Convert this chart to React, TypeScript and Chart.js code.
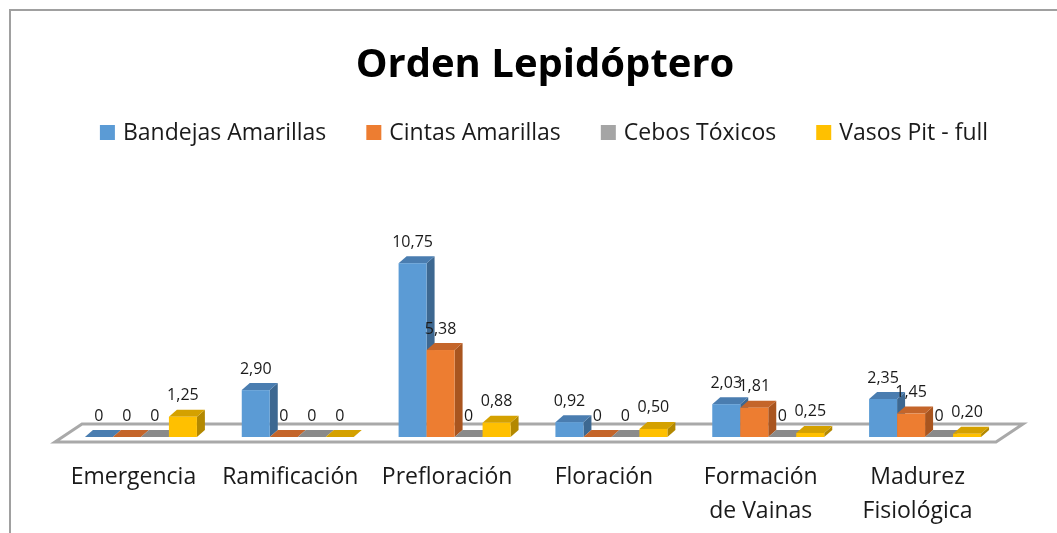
import React, { useEffect, useRef } from "react";
import { Chart, registerables } from "chart.js";
Chart.register(...registerables);

const titleText = "Orden Lepidóptero";
const categories: string[][] = [
  ["Emergencia"],
  ["Ramificación"],
  ["Prefloración"],
  ["Floración"],
  ["Formación", "de Vainas"],
  ["Madurez", "Fisiológica"],
];
const seriesNames = ["Bandejas Amarillas", "Cintas Amarillas", "Cebos Tóxicos", "Vasos Pit - full"];
const bandejas = [0, 2.9, 10.75, 0.92, 2.03, 2.35];
const cintas = [0, 0, 5.38, 0, 1.81, 1.45];
const cebos = [0, 0, 0, 0, 0, 0];
const vasos = [1.25, 0, 0.88, 0.5, 0.25, 0.2];
const seriesValues = [bandejas, cintas, cebos, vasos];

const frontColors = ["#5B9BD5", "#ED7D31", "#A5A5A5", "#FFC000"];
const topColors = ["#4A7DB0", "#C4652A", "#8A8A8A", "#D4A100"];
const sideColors = ["#3D6891", "#A9551F", "#767676", "#B38800"];

const FONT = "'Open Sans', 'DejaVu Sans', sans-serif";

function fmt(v: number): string {
  if (v === 0) return "0";
  return v.toFixed(2).replace(".", ",");
}

const threeDPlugin = {
  id: "threeD",
  beforeDatasetsDraw(chart: any) {
    const ctx: CanvasRenderingContext2D = chart.ctx;
    const area = chart.chartArea;
    // floor
    const fdx = 27, fdy = -18;
    ctx.save();
    ctx.beginPath();
    ctx.moveTo(area.left, area.bottom);
    ctx.lineTo(area.right, area.bottom);
    ctx.lineTo(area.right + fdx, area.bottom + fdy);
    ctx.lineTo(area.left + fdx, area.bottom + fdy);
    ctx.closePath();
    ctx.fillStyle = "#ffffff";
    ctx.fill();
    ctx.lineWidth = 3;
    ctx.strokeStyle = "#A9A9A9";
    ctx.lineJoin = "miter";
    ctx.stroke();
    ctx.restore();

    const sx = 7.5, sy = -5;
    const dx = 8, dy = -7;
    const n = chart.data.labels.length;
    const nd = chart.data.datasets.length;
    for (let i = 0; i < n; i++) {
      for (let d = 0; d < nd; d++) {
        const el = chart.getDatasetMeta(d).data[i];
        if (!el) continue;
        const x0 = el.x - el.width / 2 + sx;
        const x1 = el.x + el.width / 2 + sx;
        const yt = el.y + sy;
        const yb = el.base + sy;
        // side
        ctx.fillStyle = sideColors[d];
        ctx.beginPath();
        ctx.moveTo(x1, yb);
        ctx.lineTo(x1 + dx, yb + dy);
        ctx.lineTo(x1 + dx, yt + dy);
        ctx.lineTo(x1, yt);
        ctx.closePath();
        ctx.fill();
        // top
        ctx.fillStyle = topColors[d];
        ctx.beginPath();
        ctx.moveTo(x0, yt);
        ctx.lineTo(x1, yt);
        ctx.lineTo(x1 + dx, yt + dy);
        ctx.lineTo(x0 + dx, yt + dy);
        ctx.closePath();
        ctx.fill();
        // front
        if (yb - yt > 0.5) {
          ctx.fillStyle = frontColors[d];
          ctx.fillRect(x0, yt, x1 - x0, yb - yt);
        }
      }
    }
    // value labels
    ctx.save();
    ctx.font = `16px ${FONT}`;
    ctx.fillStyle = "#1a1a1a";
    ctx.textAlign = "center";
    ctx.textBaseline = "alphabetic";
    for (let d = 0; d < nd; d++) {
      const meta = chart.getDatasetMeta(d);
      const vals = chart.data.datasets[d].data;
      for (let i = 0; i < n; i++) {
        const el = meta.data[i];
        ctx.fillText(fmt(vals[i]), el.x + sx, el.y + sy - 16.5);
      }
    }
    ctx.restore();
    return false;
  },
  afterDraw(chart: any) {
    const ctx: CanvasRenderingContext2D = chart.ctx;
    const area = chart.chartArea;
    ctx.save();
    // frame
    ctx.strokeStyle = "#A0A0A0";
    ctx.lineWidth = 2;
    ctx.beginPath();
    ctx.moveTo(10, chart.height + 5);
    ctx.lineTo(10, 10);
    ctx.lineTo(chart.width + 5, 10);
    ctx.stroke();

    // title
    ctx.fillStyle = "#000000";
    ctx.font = `bold 40px ${FONT}`;
    ctx.textAlign = "center";
    ctx.textBaseline = "alphabetic";
    ctx.fillText(titleText, 545, 77);

    // legend
    ctx.font = `23px ${FONT}`;
    ctx.textAlign = "left";
    const box = 15, gap = 8, spacing = 40;
    const widths = seriesNames.map((s) => ctx.measureText(s).width);
    const total = widths.reduce((a, w) => a + box + gap + w, 0) + spacing * (seriesNames.length - 1);
    let x = 544 - total / 2;
    seriesNames.forEach((s, k) => {
      ctx.fillStyle = frontColors[k];
      ctx.fillRect(x, 125, box, box);
      ctx.fillStyle = "#1a1a1a";
      ctx.fillText(s, x + box + gap, 139.5);
      x += box + gap + widths[k] + spacing;
    });

    // category labels
    const xs = chart.scales.x;
    ctx.textAlign = "center";
    ctx.fillStyle = "#1a1a1a";
    categories.forEach((lines, i) => {
      const cx = xs.getPixelForValue(i);
      lines.forEach((line, j) => {
        ctx.fillText(line, cx, area.bottom + 42 + j * 34);
      });
    });
    ctx.restore();
  },
};

export default function App() {
  const ref = useRef<HTMLCanvasElement | null>(null);
  useEffect(() => {
    document.body.style.margin = "0";
    document.body.style.overflow = "hidden";
    const canvas = ref.current;
    if (!canvas) return;
    const chart = new Chart(canvas, {
      type: "bar",
      data: {
        labels: categories.map((c) => c.join(" ")),
        datasets: seriesNames.map((name, k) => ({
          label: name,
          data: seriesValues[k],
          backgroundColor: frontColors[k],
          barPercentage: 1,
          categoryPercentage: 0.714,
        })),
      },
      options: {
        responsive: false,
        animation: false,
        layout: { padding: { left: 55, right: 61, top: 248, bottom: 91 } },
        plugins: {
          legend: { display: false },
          title: { display: false },
          tooltip: { enabled: false },
        },
        scales: {
          x: { display: false, offset: true },
          y: { display: false, min: 0, max: 12 },
        },
      },
      plugins: [threeDPlugin],
    });
    return () => chart.destroy();
  }, []);
  return (
    <div style={{ width: 1057, height: 533, background: "#ffffff" }}>
      <canvas ref={ref} width={1057} height={533} style={{ display: "block" }} />
    </div>
  );
}
